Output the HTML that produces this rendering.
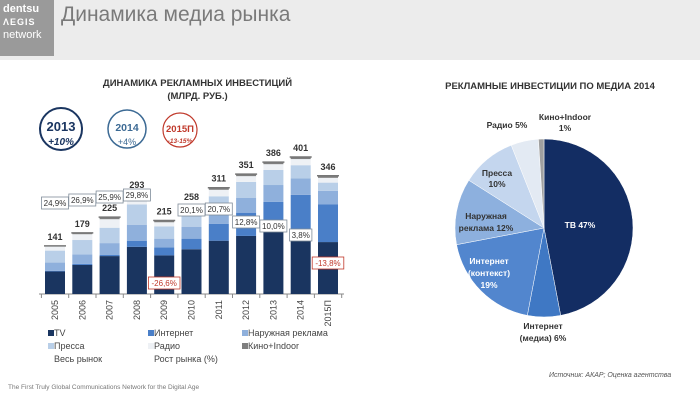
<!DOCTYPE html>
<html><head><meta charset="utf-8"><style>
body{margin:0;width:700px;height:400px;overflow:hidden;background:#fff;font-family:"Liberation Sans","DejaVu Sans",sans-serif;position:relative}
.abs{position:absolute}
</style></head><body>
<div class="abs" style="left:0;top:0;width:700px;height:60px;background:#ececec"></div>
<div class="abs" style="left:0;top:0;width:54px;height:56px;background:#9a9a9a;color:#fff;font-size:11px;line-height:13px;padding:3px 0 0 3px;box-sizing:border-box">
<div style="font-weight:bold">dentsu</div><div style="font-weight:bold;letter-spacing:1px;font-size:9px">ΛEGIS</div><div>network</div></div>
<div class="abs" style="left:61px;top:3px;font-size:21px;color:#7a7a7a">Динамика медиа рынка</div>
<div class="abs" style="left:60px;top:77px;width:275px;text-align:center;font-size:9.5px;font-weight:bold;color:#333;line-height:13px">ДИНАМИКА РЕКЛАМНЫХ ИНВЕСТИЦИЙ<br>(МЛРД. РУБ.)</div>
<div class="abs" style="left:420px;top:81px;width:260px;text-align:center;font-size:9.5px;font-weight:bold;color:#333">РЕКЛАМНЫЕ ИНВЕСТИЦИИ ПО МЕДИА 2014</div>
<svg class="abs" style="left:0;top:0" width="700" height="400" id="svg">
<g><circle cx="61" cy="129" r="21" fill="#fff" stroke="#1a3560" stroke-width="2"/><text x="61" y="131" text-anchor="middle" font-size="13" font-weight="bold" fill="#1a3560">2013</text><text x="61" y="145" text-anchor="middle" font-size="10" font-style="italic" font-weight="bold" fill="#1a3560">+10%</text></g>
<g><circle cx="127" cy="129" r="19" fill="#fff" stroke="#3c6a94" stroke-width="1.5"/><text x="127" y="131" text-anchor="middle" font-size="10.5" font-weight="bold" fill="#3c6a94">2014</text><text x="127" y="145" text-anchor="middle" font-size="9" fill="#3c6a94">+4%</text></g>
<g><circle cx="180" cy="130" r="17" fill="#fff" stroke="#c0392b" stroke-width="1.2"/><text x="180" y="132" text-anchor="middle" font-size="9.5" font-weight="bold" fill="#c0392b">2015П</text><text x="180" y="143" text-anchor="middle" font-size="6.5" font-style="italic" font-weight="bold" fill="#c0392b">-13-15%</text></g>
<g id="bars"></g><g id="pie"></g>
</svg>
<div class="abs" style="left:48px;top:328px;font-size:9px;color:#444;width:320px;height:40px">
<div class="abs" style="left:0;top:0"><span style="display:inline-block;width:6px;height:6px;background:#1a3560"></span>TV</div>
<div class="abs" style="left:100px;top:0"><span style="display:inline-block;width:6px;height:6px;background:#4a7fc8"></span>Интернет</div>
<div class="abs" style="left:194px;top:0"><span style="display:inline-block;width:6px;height:6px;background:#8fb0dc"></span>Наружная реклама</div>
<div class="abs" style="left:0;top:13px"><span style="display:inline-block;width:6px;height:6px;background:#b9cfe8"></span>Пресса</div>
<div class="abs" style="left:100px;top:13px"><span style="display:inline-block;width:6px;height:6px;background:#eef1f5"></span>Радио</div>
<div class="abs" style="left:194px;top:13px"><span style="display:inline-block;width:6px;height:6px;background:#7f7f7f"></span>Кино+Indoor</div>
<div class="abs" style="left:6px;top:26px">Весь рынок</div>
<div class="abs" style="left:106px;top:26px">Рост рынка (%)</div>
</div>
<div class="abs" style="left:8px;top:384px;font-size:6.5px;color:#777">The First Truly Global Communications Network for the Digital Age</div>
<div class="abs" style="left:549px;top:372px;font-size:7px;font-style:italic;color:#555">Источник: АКАР; Оценка агентства</div>
<script>
const years=["2005","2006","2007","2008","2009","2010","2011","2012","2013","2014","2015П"];
const tv=[66,85,111,138,113,131,156,170,187,189,152];
const internet=[2,3,4,18,23,31,49,68,83,101,110];
const outdoor=[24,28,34,46,26,35,41,43,49,48,40];
const press=[35,42,45,60,36,38,40,47,44,39,24];
const radio=[12,17,25,25,12,17,19,17,17,18,14];
const cinema=[2,4,6,6,5,6,6,6,6,6,6];
const totals=[141,179,225,293,215,258,311,351,386,401,346];
const growth=["24,9%","26,9%","25,9%","29,8%","-26,6%","20,1%","20,7%","12,8%","10,0%","3,8%","-13,8%"];
const pieLabels=["ТВ 47%","Интернет (медиа) 6%","Интернет (контекст) 19%","Наружная реклама 12%","Пресса 10%","Радио 5%","Кино+Indoor 1%"];
const pieValues=[47,6,19,12,10,5,1];
const labelY=[203,200,197,195,283,210,209,222,226,235,263];
const NS="http://www.w3.org/2000/svg";
function mk(t,a,p){const e=document.createElementNS(NS,t);for(const k in a)e.setAttribute(k,a[k]);p.appendChild(e);return e;}
const bars=document.getElementById('bars');
const base=294,scale=137/401,x0=45,pitch=27.3,bw=20;
const yv=v=>base-v*scale;
const series=[tv,internet,outdoor,press,radio,cinema];
const cols=["#1a3560","#4a7fc8","#8fb0dc","#b9cfe8","#eef1f5","#7f7f7f"];
const snames=["tv","internet","outdoor","press","radio","cinema"];
mk('line',{x1:x0-6,y1:base,x2:x0+10*pitch+bw+6,y2:base,stroke:"#888","stroke-width":1},bars);
for(let i=0;i<=11;i++){mk('line',{x1:x0-3.6+i*pitch,y1:base,x2:x0-3.6+i*pitch,y2:base+4,stroke:"#888"},bars);}
years.forEach((yr,i)=>{
  const x=x0+i*pitch;let acc=0;
  series.forEach((s,j)=>{
    const r=mk('rect',{x:x,y:yv(acc+s[i]),width:bw,height:s[i]*scale,fill:cols[j]},bars);
    
    
    acc+=s[i];
  });
  const l=mk('line',{x1:x-1,x2:x+bw+1,y1:yv(totals[i]),y2:yv(totals[i]),stroke:"#777","stroke-width":1.5},bars);
  
  
  const t=mk('text',{x:x+bw/2,y:yv(totals[i])-6,"text-anchor":"middle","font-size":9,"font-weight":"bold",fill:"#333"},bars);t.textContent=totals[i];
  
  
  const neg=growth[i][0]=='-';
  const bwid=growth[i].length*4.6+4;
  const g=mk('g',{},bars);
  
  
  mk('rect',{x:x+bw/2-bwid/2,y:labelY[i]-6,width:bwid,height:12,fill:"#fff",stroke:neg?"#c0392b":"#7f8c99","stroke-width":0.8},g);
  const gt=mk('text',{x:x+bw/2,y:labelY[i]+3,"text-anchor":"middle","font-size":8,fill:neg?"#c0392b":"#333"},g);gt.textContent=growth[i];
  const yt=mk('text',{x:0,y:0,"text-anchor":"end","font-size":9,fill:"#444",transform:`translate(${x+bw/2+3},${base+6}) rotate(-90)`},bars);yt.textContent=yr;
  
  
});
const pie=document.getElementById('pie');
const cx=544,cy=228,R=89;
const pcols=["#132d63","#3f78c4","#5286ce","#8db0de","#c4d6ee","#e3eaf3","#a0a0a0"];
const pnames=["tv","internet-media","internet-context","outdoor","press","radio","cinema"];
const tot=pieValues.reduce((a,b)=>a+b,0);
let a0=-Math.PI/2;
pieValues.forEach((v,i)=>{
  const a1=a0+v/tot*2*Math.PI;
  const p=(a)=>[cx+R*Math.cos(a),cy+R*Math.sin(a)];
  const [x1,y1]=p(a0),[x2,y2]=p(a1);
  const path=mk('path',{d:`M${cx},${cy}L${x1},${y1}A${R},${R} 0 ${a1-a0>Math.PI?1:0} 1 ${x2},${y2}Z`,fill:pcols[i],stroke:"#fff","stroke-width":0.5},pie);
  
  
  a0=a1;
});
const plab=[[580,[228],"#fff",[pieLabels[0]]],[543,[329,341],"#333",["Интернет","(медиа) 6%"]],[489,[264,276,288],"#fff",["Интернет","(контекст)","19%"]],[486,[219,231],"#333",["Наружная","реклама 12%"]],[497,[176,187],"#333",["Пресса","10%"]],[507,[128],"#333",["Радио 5%"]],[565,[120,131],"#333",["Кино+Indoor","1%"]]];
plab.forEach((l,i)=>{
  const t=mk('text',{x:l[0],y:l[1][0],"text-anchor":"middle","font-size":8.5,"font-weight":"bold",fill:l[2]},pie);
  
  
  l[3].forEach((s,k)=>{const ts=mk('tspan',{x:l[0],y:l[1][k]},t);ts.textContent=s;});
});
</script>
</body></html>
